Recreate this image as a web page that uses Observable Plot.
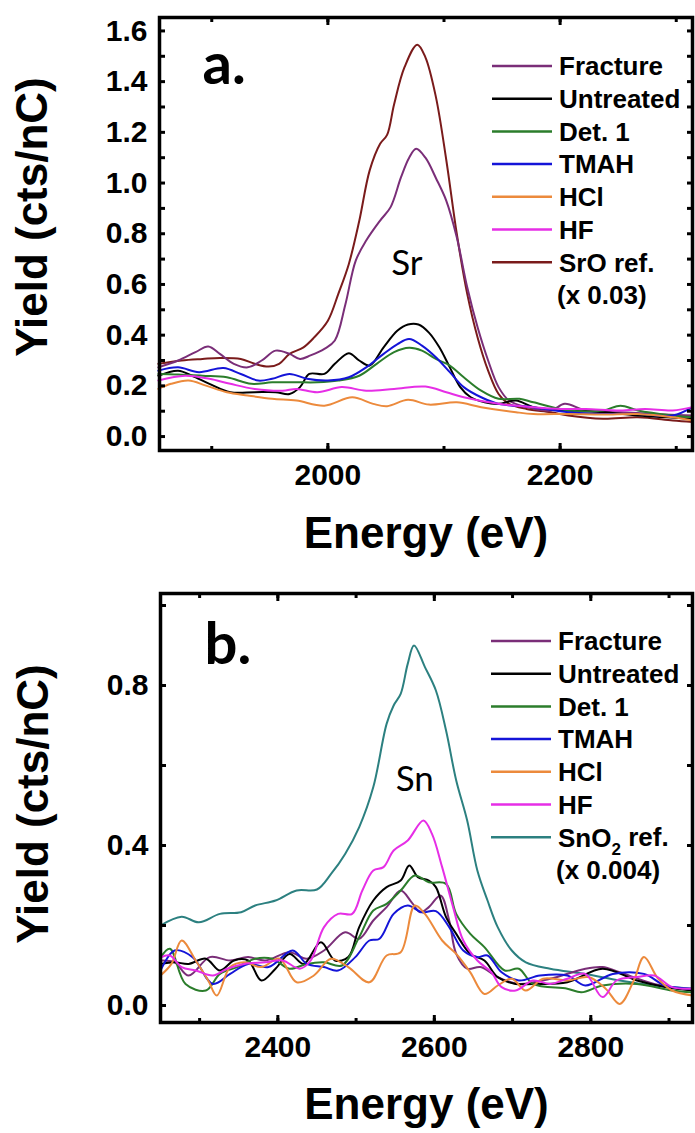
<!DOCTYPE html>
<html>
<head>
<meta charset="utf-8">
<script src="https://cdn.jsdelivr.net/npm/d3@7"></script>
<script src="https://cdn.jsdelivr.net/npm/@observablehq/plot@0.6"></script>
<style>
  body { margin: 0; background: #fff; }
  #fig { width: 695px; }
  #fig svg { display: block; }
</style>
</head>
<body>
<div id="fig"></div>
<script>
// ---- Sr K-edge yields (panel a): [energy eV, yield cts/nC] ----
const srFracture = [[1854,0.273],[1871,0.30],[1886,0.333],[1897,0.355],[1907,0.326],[1919,0.287],[1931,0.273],[1943,0.30],[1955,0.339],[1967,0.326],[1976,0.306],[1985,0.32],[1997,0.346],[2006,0.379],[2015,0.52],[2024,0.694],[2033,0.773],[2045,0.852],[2054,0.905],[2063,1.023],[2070,1.10],[2076,1.135],[2084,1.10],[2093,1.02],[2102,0.93],[2111,0.786],[2120,0.589],[2129,0.43],[2138,0.30],[2147,0.195],[2156,0.142],[2171,0.116],[2192,0.103],[2204,0.129],[2222,0.103],[2252,0.096],[2282,0.089],[2314,0.083]];
const srUntreated = [[1854,0.24],[1871,0.26],[1883,0.24],[1898,0.208],[1916,0.175],[1937,0.175],[1955,0.175],[1967,0.168],[1976,0.195],[1984,0.247],[1997,0.247],[2006,0.287],[2018,0.329],[2027,0.30],[2036,0.28],[2048,0.352],[2060,0.418],[2069,0.442],[2078,0.442],[2087,0.41],[2096,0.352],[2105,0.273],[2114,0.195],[2123,0.155],[2135,0.135],[2147,0.129],[2162,0.142],[2177,0.116],[2207,0.103],[2237,0.096],[2267,0.083],[2314,0.07]];
const srDet1 = [[1854,0.247],[1871,0.245],[1892,0.24],[1913,0.234],[1934,0.208],[1952,0.214],[1973,0.214],[1991,0.214],[2009,0.221],[2027,0.24],[2042,0.287],[2057,0.333],[2070,0.35],[2081,0.339],[2093,0.306],[2105,0.28],[2117,0.234],[2132,0.181],[2147,0.149],[2165,0.149],[2177,0.135],[2207,0.103],[2237,0.103],[2252,0.122],[2267,0.103],[2297,0.083],[2314,0.076]];
const srTMAH = [[1854,0.26],[1871,0.273],[1889,0.254],[1910,0.27],[1925,0.247],[1940,0.221],[1952,0.228],[1967,0.247],[1982,0.228],[2000,0.221],[2018,0.234],[2033,0.273],[2048,0.326],[2060,0.365],[2070,0.385],[2081,0.359],[2093,0.313],[2105,0.254],[2117,0.195],[2132,0.155],[2147,0.129],[2177,0.116],[2207,0.096],[2237,0.089],[2267,0.089],[2297,0.083],[2314,0.116]];
const srHCl = [[1854,0.188],[1865,0.208],[1880,0.221],[1895,0.201],[1913,0.175],[1931,0.162],[1952,0.149],[1973,0.142],[1997,0.122],[2021,0.155],[2039,0.129],[2051,0.12],[2069,0.145],[2087,0.126],[2111,0.135],[2132,0.116],[2162,0.096],[2177,0.089],[2207,0.089],[2237,0.087],[2267,0.089],[2297,0.076],[2314,0.063]];
const srHF = [[1854,0.221],[1877,0.24],[1898,0.228],[1916,0.208],[1937,0.188],[1961,0.181],[1973,0.188],[1991,0.175],[2012,0.195],[2033,0.181],[2057,0.188],[2084,0.197],[2102,0.175],[2117,0.155],[2147,0.129],[2177,0.116],[2201,0.109],[2222,0.109],[2252,0.103],[2273,0.109],[2297,0.103],[2314,0.116]];
const srORef = [[1854,0.287],[1874,0.30],[1892,0.306],[1907,0.31],[1925,0.306],[1937,0.287],[1949,0.276],[1958,0.287],[1967,0.326],[1979,0.352],[1988,0.39],[2000,0.457],[2009,0.563],[2018,0.68],[2027,0.85],[2036,1.05],[2045,1.155],[2051,1.19],[2057,1.31],[2066,1.457],[2077,1.546],[2084,1.496],[2093,1.34],[2102,1.09],[2111,0.80],[2120,0.563],[2129,0.39],[2138,0.26],[2147,0.168],[2156,0.129],[2171,0.109],[2192,0.096],[2207,0.083],[2237,0.07],[2267,0.076],[2297,0.063],[2314,0.057]];

// ---- Sn K-edge yields (panel b) ----
const snFracture = [[2250,0.1125],[2268,0.108],[2286,0.075],[2313,0.121],[2339,0.1125],[2362,0.121],[2384,0.1125],[2415,0.133],[2437,0.117],[2459,0.1375],[2486,0.183],[2504,0.167],[2522,0.2125],[2539,0.246],[2557,0.2875],[2571,0.258],[2582,0.233],[2593,0.246],[2608,0.275],[2619,0.2125],[2628,0.129],[2642,0.092],[2659,0.096],[2681,0.071],[2708,0.054],[2748,0.067],[2793,0.092],[2815,0.096],[2837,0.083],[2881,0.054],[2930,0.0375]];
const snUntreated = [[2250,0.104],[2268,0.108],[2286,0.104],[2308,0.117],[2326,0.0875],[2344,0.1125],[2362,0.1125],[2379,0.0625],[2397,0.092],[2415,0.129],[2433,0.104],[2455,0.158],[2473,0.1125],[2490,0.121],[2504,0.196],[2522,0.2625],[2539,0.296],[2557,0.3125],[2568,0.35],[2579,0.321],[2593,0.3125],[2602,0.296],[2615,0.221],[2628,0.179],[2646,0.129],[2664,0.1125],[2681,0.071],[2704,0.054],[2726,0.054],[2770,0.058],[2815,0.092],[2859,0.0625],[2895,0.046],[2930,0.0375]];
const snDet1 = [[2250,0.12],[2262,0.142],[2282,0.054],[2308,0.0375],[2326,0.079],[2348,0.096],[2371,0.117],[2393,0.117],[2415,0.092],[2437,0.104],[2459,0.108],[2482,0.10],[2504,0.171],[2522,0.2375],[2539,0.254],[2557,0.2875],[2575,0.325],[2593,0.308],[2615,0.304],[2628,0.229],[2646,0.179],[2664,0.146],[2690,0.0875],[2708,0.092],[2726,0.054],[2770,0.042],[2788,0.033],[2815,0.05],[2859,0.054],[2904,0.0375],[2930,0.033]];
const snTMAH = [[2250,0.0875],[2268,0.1375],[2291,0.121],[2317,0.054],[2339,0.079],[2362,0.104],[2388,0.096],[2419,0.1375],[2437,0.104],[2459,0.096],[2477,0.0875],[2499,0.121],[2517,0.1625],[2530,0.167],[2548,0.229],[2566,0.25],[2584,0.233],[2602,0.236],[2619,0.196],[2637,0.1375],[2655,0.121],[2668,0.125],[2686,0.083],[2708,0.0625],[2735,0.075],[2770,0.075],[2793,0.05],[2828,0.079],[2868,0.079],[2895,0.05],[2930,0.042]];
const snHCl = [[2250,0.075],[2264,0.104],[2277,0.1625],[2295,0.1125],[2311,0.0625],[2322,0.025],[2339,0.096],[2357,0.108],[2379,0.096],[2402,0.117],[2424,0.058],[2446,0.075],[2468,0.117],[2490,0.096],[2517,0.058],[2539,0.125],[2557,0.133],[2575,0.25],[2588,0.229],[2610,0.1625],[2628,0.129],[2646,0.083],[2664,0.029],[2681,0.05],[2699,0.067],[2717,0.0375],[2739,0.067],[2770,0.0625],[2797,0.071],[2819,0.042],[2837,0.004],[2855,0.0625],[2868,0.121],[2886,0.067],[2904,0.0375],[2930,0.025]];
const snHF = [[2250,0.12],[2262,0.125],[2277,0.096],[2295,0.0875],[2317,0.075],[2335,0.092],[2357,0.104],[2384,0.108],[2406,0.1125],[2428,0.092],[2442,0.1125],[2459,0.196],[2477,0.229],[2495,0.229],[2508,0.2875],[2522,0.3375],[2535,0.346],[2548,0.3875],[2566,0.4125],[2586,0.4625],[2597,0.429],[2610,0.346],[2624,0.246],[2637,0.1625],[2655,0.1125],[2673,0.083],[2686,0.046],[2704,0.0375],[2726,0.0625],[2748,0.054],[2770,0.067],[2793,0.079],[2815,0.021],[2833,0.0625],[2859,0.071],[2881,0.075],[2904,0.046],[2930,0.042]];
const snO2Ref = [[2250,0.20],[2277,0.222],[2299,0.208],[2326,0.229],[2353,0.233],[2371,0.25],[2397,0.2625],[2424,0.2875],[2450,0.29],[2468,0.329],[2486,0.379],[2504,0.446],[2522,0.546],[2539,0.704],[2548,0.75],[2557,0.779],[2566,0.854],[2574,0.90],[2588,0.846],[2602,0.7875],[2615,0.6875],[2628,0.5625],[2642,0.4625],[2655,0.3375],[2668,0.2625],[2681,0.196],[2699,0.1375],[2717,0.108],[2748,0.092],[2793,0.079],[2837,0.0625],[2881,0.05],[2930,0.042]];

// ---- Legend labels and axis ticks ----
const sampleNames = ["Fracture", "Untreated", "Det. 1", "TMAH", "HCl", "HF"];
const sampleColors = ["#7a2e78", "#000000", "#2b7d2b", "#1414d8", "#ec8a3c", "#e62ee6"];
const srRefColor = "#7a1b1b";
const snRefColor = "#2c8080";

const xTicksA = [1900, 2000, 2100, 2200, 2300];
const xLabelsA = [2000, 2200];
const yTicksA = [0, 0.1, 0.2, 0.3, 0.4, 0.5, 0.6, 0.7, 0.8, 0.9, 1.0, 1.1, 1.2, 1.3, 1.4, 1.5, 1.6];
const yLabelsA = [0, 0.2, 0.4, 0.6, 0.8, 1.0, 1.2, 1.4, 1.6];

const xTicksB = [2300, 2400, 2500, 2600, 2700, 2800, 2900];
const xLabelsB = [2400, 2600, 2800];
const yTicksB = [0, 0.2, 0.4, 0.6, 0.8, 1.0];
const yLabelsB = [0, 0.4, 0.8];

const SANS = "'Liberation Sans', Arial, sans-serif";
const HUMANIST = "Lato, 'Open Sans', sans-serif";
const blank = () => "";

function panel(opts) {
  const {series, refSeries, refColor, refLabel, refScale, letter, element,
         xDomain, yDomain, xTicks, xLabels, yTicks, yLabels,
         height, margin, xTitleDy, legendTop, legendStep} = opts;

  const curves = series.map((s, i) =>
    Plot.line(s, {x: d => d[0], y: d => d[1], stroke: sampleColors[i], strokeWidth: 2, curve: "catmull-rom"}));
  const tickStyle = {strokeWidth: 3, tickFormat: blank, label: null};
  const marks = [
    Plot.line(refSeries, {x: d => d[0], y: d => d[1], stroke: refColor, strokeWidth: 2, curve: "catmull-rom"}),
    ...curves,
    Plot.frame({strokeWidth: 3.5}),
    // inward ticks on all four sides; labelled positions get longer ticks
    Plot.axisX({anchor: "bottom", ticks: xTicks, tickSize: -4, ...tickStyle}),
    Plot.axisX({anchor: "bottom", ticks: xLabels, tickSize: -7, ...tickStyle}),
    Plot.axisX({anchor: "top", ticks: xTicks, tickSize: -4, ...tickStyle}),
    Plot.axisX({anchor: "top", ticks: xLabels, tickSize: -7, ...tickStyle}),
    Plot.axisY({anchor: "left", ticks: yTicks, tickSize: -6, ...tickStyle}),
    Plot.axisY({anchor: "right", ticks: yTicks, tickSize: -6, ...tickStyle}),
    // tick labels
    Plot.axisX({anchor: "bottom", ticks: xLabels, tickSize: 0, tickPadding: 13, tickFormat: d => String(d),
                fontSize: 30, fontWeight: "bold", fontFamily: SANS, label: null}),
    Plot.axisY({anchor: "left", ticks: yLabels, tickSize: 0, tickPadding: 12, tickFormat: d3.format(".1f"),
                fontSize: 30, fontWeight: "bold", fontFamily: SANS, label: null}),
    // axis titles
    Plot.text(["Energy (eV)"], {frameAnchor: "bottom", textAnchor: "middle", lineAnchor: "top", dy: xTitleDy,
                fontSize: 44, fontWeight: "bold", fontFamily: SANS}),
    Plot.text(["Yield (cts/nC)"], {frameAnchor: "left", textAnchor: "middle", lineAnchor: "top", rotate: -90,
                dx: -144, dy: opts.yTitleDy, fontSize: 44, fontWeight: "bold", fontFamily: SANS}),
    // panel letter and edge annotation
    Plot.text([letter], {frameAnchor: "top-left", textAnchor: "start", lineAnchor: "top", dx: opts.letterDx, dy: opts.letterDy,
                fontSize: 58, fontWeight: "bold", fontFamily: HUMANIST}),
    Plot.text([opts.edge], {x: () => opts.edgeAt[0], y: () => opts.edgeAt[1], fontSize: 35, fontFamily: HUMANIST})
  ];

  const chart = Plot.plot({
    width: 695, height,
    marginLeft: margin[3], marginRight: margin[1], marginTop: margin[0], marginBottom: margin[2],
    x: {domain: xDomain, axis: null},
    y: {domain: yDomain, axis: null},
    style: {fontFamily: SANS, color: "#000", background: "#fff", overflow: "visible"},
    marks
  });

  // line-swatch legend in the upper right of the frame
  const svg = d3.select(chart);
  const lg = svg.append("g").attr("font-family", SANS).attr("font-weight", "bold")
    .attr("font-size", 26).attr("text-anchor", "start").attr("fill", "#000");
  const labels = [...sampleNames, refLabel];
  const colors = [...sampleColors, refColor];
  labels.forEach((lab, i) => {
    const y = legendTop + i * legendStep;
    lg.append("line").attr("x1", opts.legendX).attr("x2", opts.legendX + 60).attr("y1", y).attr("y2", y)
      .attr("stroke", colors[i]).attr("stroke-width", 2.5);
    const t = lg.append("text").attr("x", opts.legendX + 67).attr("y", y).attr("dy", "0.36em");
    if (Array.isArray(lab)) {
      t.append("tspan").text(lab[0]);
      t.append("tspan").attr("font-size", 17).attr("dy", "0.5em").text(lab[1]);
      t.append("tspan").attr("dy", "-0.35em").text(lab[2]);
    } else t.text(lab);
  });
  lg.append("text").attr("x", opts.legendX + 65).attr("y", legendTop + labels.length * legendStep)
    .attr("dy", "0.36em").text(refScale);

  document.getElementById(element).append(chart);
}

const fig = document.getElementById("fig");
fig.innerHTML = '<div id="pa"></div><div id="pb"></div>';

panel({
  element: "pa",
  series: [srFracture, srUntreated, srDet1, srTMAH, srHCl, srHF],
  refSeries: srORef, refColor: srRefColor, refLabel: "SrO ref.", refScale: "(x 0.03)",
  letter: "a.", edge: "Sr", edgeAt: [2068, 0.68],
  xDomain: [1855, 2314], yDomain: [-0.055, 1.653],
  xTicks: xTicksA, xLabels: xLabelsA, yTicks: yTicksA, yLabels: yLabelsA,
  height: 565, margin: [17, 3, 115, 159],
  xTitleDy: 66, yTitleDy: -17, letterDx: 43, letterDy: 25,
  legendX: 492, legendTop: 66, legendStep: 32.7
});

panel({
  element: "pb",
  series: [snFracture, snUntreated, snDet1, snTMAH, snHCl, snHF],
  refSeries: snO2Ref, refColor: snRefColor, refLabel: ["SnO", "2", " ref."], refScale: "(x 0.004)",
  letter: "b.", edge: "Sn", edgeAt: [2575, 0.565],
  xDomain: [2250, 2930], yDomain: [-0.0425, 1.03],
  xTicks: xTicksB, xLabels: xLabelsB, yTicks: yTicksB, yLabels: yLabelsB,
  height: 568, margin: [28, 3, 111, 160],
  xTitleDy: 65, yTitleDy: -4, letterDx: 44, letterDy: 29,
  legendX: 491, legendTop: 76, legendStep: 32.7
});
</script>
</body>
</html>
